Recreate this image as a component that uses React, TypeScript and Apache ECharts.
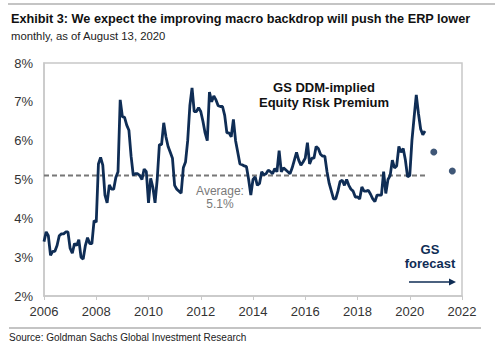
import React, { useEffect, useRef } from "react";
import * as echarts from "echarts";

const startYear = 2006;
// Monthly GS DDM-implied ERP (%), Jan 2006 .. Aug 2020
const erp2006 = [3.4, 3.65, 3.55, 3.05, 3.15, 3.15, 3.3, 3.55, 3.6, 3.6, 3.65, 3.65];
const erp2007 = [3.23, 3.1, 3.35, 3.3, 3.45, 3.0, 2.95, 3.3, 3.5, 3.35, 3.35, 3.94];
const erp2008 = [3.9, 5.4, 5.57, 5.37, 4.6, 4.4, 4.86, 4.75, 4.75, 5.05, 5.2, 7.05];
const erp2009 = [6.62, 6.6, 6.4, 6.27, 5.6, 5.11, 5.15, 5.15, 5.1, 5.0, 5.27, 5.2];
const erp2010 = [4.4, 5.03, 4.8, 4.4, 5.0, 5.9, 5.9, 6.46, 6.1, 5.85, 5.7, 5.55];
const erp2011 = [4.85, 4.75, 4.7, 4.65, 5.3, 5.45, 6.0, 6.9, 7.36, 6.75, 6.75, 6.85];
const erp2012 = [6.75, 6.5, 6.2, 6.0, 7.25, 7.0, 7.15, 7.05, 6.9, 6.88, 6.88, 6.65];
const erp2013 = [6.2, 6.2, 6.1, 6.55, 6.0, 5.7, 5.4, 5.38, 5.35, 5.33, 5.0, 4.6];
const erp2014 = [5.0, 5.07, 4.85, 4.9, 5.2, 5.12, 5.15, 5.24, 5.2, 5.15, 5.28, 5.2];
const erp2015 = [5.74, 5.2, 5.3, 5.25, 5.2, 5.15, 5.3, 5.5, 5.7, 5.5, 5.37, 5.45];
const erp2016 = [5.55, 5.95, 5.4, 5.55, 5.55, 5.85, 5.8, 5.65, 5.6, 5.6, 5.2, 4.9];
const erp2017 = [4.7, 4.5, 4.5, 4.7, 4.95, 4.98, 4.85, 5.0, 4.85, 4.75, 4.7, 4.55];
const erp2018 = [4.55, 4.5, 4.81, 4.7, 4.7, 4.72, 4.62, 4.5, 4.43, 4.6, 4.6, 4.6];
const erp2019 = [5.2, 4.64, 5.0, 5.1, 5.5, 5.3, 5.35, 5.85, 5.7, 5.8, 5.5, 5.07];
const erp2020 = [5.1, 6.0, 6.6, 7.18, 6.7, 6.3, 6.15, 6.25];

const erpMonthly = [
  ...erp2006, ...erp2007, ...erp2008, ...erp2009, ...erp2010,
  ...erp2011, ...erp2012, ...erp2013, ...erp2014, ...erp2015,
  ...erp2016, ...erp2017, ...erp2018, ...erp2019, ...erp2020,
];

const averageValue = 5.1;
const averageSpan = [2006, 2020.6];
const forecastX = [2020.92, 2021.63];
const forecastY = [5.71, 5.22];

const FONT = "'Liberation Sans', Arial, sans-serif";
const NAVY = "#0f2d55";

export default function App() {
  const ref = useRef<HTMLDivElement>(null);
  useEffect(() => {
    document.body.style.margin = "0";
    const chart = echarts.init(ref.current!, null, { renderer: "svg" });
    const lineData = erpMonthly.map((v, i) => [startYear + i / 12, v]);
    const avgData = averageSpan.map((x) => [x, averageValue]);
    const fcData = forecastX.map((x, i) => [x, forecastY[i]]);
    chart.setOption({
      animation: false,
      backgroundColor: "#ffffff",
      textStyle: { fontFamily: FONT },
      grid: {
        left: 44,
        top: 63,
        right: 38,
        bottom: 55,
        show: true,
        borderColor: "#c8c8c8",
        borderWidth: 1.5,
      },
      xAxis: {
        type: "value",
        min: 2006,
        max: 2022,
        interval: 2,
        axisLine: { show: true, lineStyle: { color: "#c8c8c8", width: 1.5 } },
        axisTick: { show: true, length: 4, lineStyle: { color: "#c8c8c8" } },
        splitLine: { show: false },
        axisLabel: {
          color: "#333",
          fontSize: 13,
          fontFamily: FONT,
          margin: 9,
          formatter: (v: number) => String(v),
        },
      },
      yAxis: {
        type: "value",
        min: 2,
        max: 8,
        interval: 1,
        axisLine: { show: true, lineStyle: { color: "#c8c8c8", width: 1.5 } },
        axisTick: { show: false },
        splitLine: { show: false },
        axisLabel: {
          color: "#333",
          fontSize: 13,
          fontFamily: FONT,
          margin: 11,
          formatter: "{value}%",
        },
      },
      series: [
        {
          type: "line",
          data: avgData,
          symbol: "none",
          lineStyle: { color: "#777", width: 2, type: [5, 3] },
          z: 1,
        },
        {
          type: "line",
          data: lineData,
          symbol: "none",
          lineStyle: { color: NAVY, width: 2.8 },
          z: 2,
        },
        {
          type: "scatter",
          data: fcData,
          symbol: "circle",
          symbolSize: 7,
          itemStyle: { color: NAVY },
        },
      ],
      graphic: [
        { type: "line", shape: { x1: 8, y1: 4, x2: 495, y2: 4 }, style: { stroke: "#b0b0b0", lineWidth: 1.5 } },
        {
          type: "text", left: 11, top: 12,
          style: { text: "Exhibit 3: We expect the improving macro backdrop will push the ERP lower", fontFamily: FONT, fontSize: 12.7, fontWeight: "bold", fill: "#111" },
        },
        {
          type: "text", left: 11, top: 30,
          style: { text: "monthly, as of August 13, 2020", fontFamily: FONT, fontSize: 11.3, fill: "#222" },
        },
        {
          type: "text", x: 324, y: 80,
          style: { text: "GS DDM-implied\nEquity Risk Premium", fontFamily: FONT, fontSize: 13, fontWeight: "bold", fill: "#111", align: "center", lineHeight: 15 },
        },
        {
          type: "text", x: 220, y: 184,
          style: { text: "Average:\n5.1%", fontFamily: FONT, fontSize: 12, fill: "#7a7a7a", align: "center", lineHeight: 13 },
        },
        {
          type: "text", x: 430, y: 242,
          style: { text: "GS\nforecast", fontFamily: FONT, fontSize: 13, fontWeight: "bold", fill: NAVY, align: "center", lineHeight: 14 },
        },
        { type: "line", shape: { x1: 409, y1: 282, x2: 450, y2: 282 }, style: { stroke: NAVY, lineWidth: 1.5 } },
        { type: "polygon", shape: { points: [[449, 278.5], [456, 282], [449, 285.5]] }, style: { fill: NAVY } },
        { type: "line", shape: { x1: 9, y1: 328, x2: 481, y2: 328 }, style: { stroke: "#b0b0b0", lineWidth: 1.5 } },
        {
          type: "text", left: 9, top: 332,
          style: { text: "Source: Goldman Sachs Global Investment Research", fontFamily: FONT, fontSize: 10, fill: "#222" },
        },
      ],
    });
    return () => chart.dispose();
  }, []);
  return <div ref={ref} style={{ position: "fixed", left: 0, top: 0, width: 500, height: 351 }} />;
}
